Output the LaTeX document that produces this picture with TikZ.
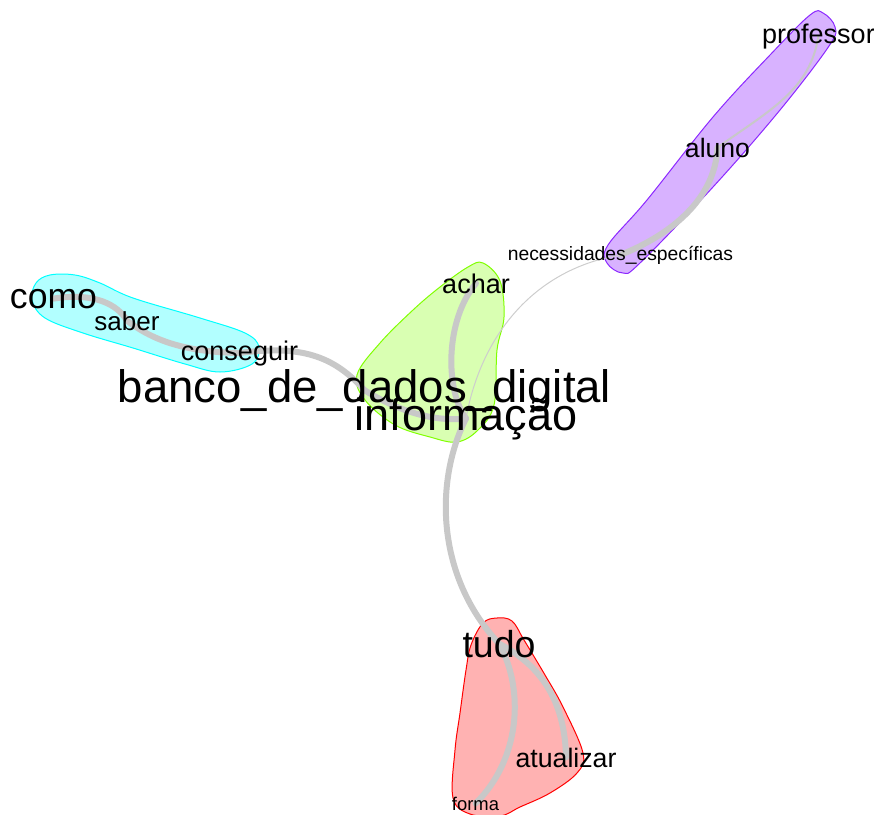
\documentclass[tikz,border=0pt]{standalone}
\usepackage{fontspec}
\setmainfont{Liberation Sans}
\pgfdeclarelayer{hull}
\pgfdeclarelayer{edge}
\pgfsetlayers{hull,edge,main}
\definecolor{edgegray}{RGB}{200,200,200}
\definecolor{cyanfill}{RGB}{178,255,255}
\definecolor{cyanline}{RGB}{0,255,255}
\definecolor{greenfill}{RGB}{217,255,178}
\definecolor{greenline}{RGB}{128,255,0}
\definecolor{purplefill}{RGB}{216,178,255}
\definecolor{purpleline}{RGB}{140,40,255}
\definecolor{redfill}{RGB}{255,178,178}
\definecolor{redline}{RGB}{255,0,0}
\newcommand\fsz[1]{\fontsize{#1}{#1}\selectfont}
\begin{document}
\begin{tikzpicture}[x=1pt,y=-1pt,
  word/.style={inner sep=0pt, anchor=base, text=black},
  strongedge/.style={draw=edgegray, line width=6pt, line cap=round},
  midedge/.style={draw=edgegray, line width=2pt, line cap=round},
  thinedge/.style={draw=edgegray!90!white, line width=1pt, line cap=round},
  hullshape/.style={line width=1pt}]
\useasboundingbox (0,0) rectangle (874,814);

% words
\node[word, font=\fsz{35.6}] (como) at (53.5,308) {como};
\node[word, font=\fsz{26}] (saber) at (127,330) {saber};
\node[word, font=\fsz{27}] (conseguir) at (239.5,360) {conseguir};
\node[word, font=\fsz{45.5}] (banco) at (364.5,402) {banco\_de\_dados\_digital};
\node[word, font=\fsz{45}] (info) at (466,430) {informação};
\node[word, font=\fsz{27}] (achar) at (476,293) {achar};
\node[word, font=\fsz{19.3}] (nec) at (620.5,260) {necessidades\_específicas};
\node[word, font=\fsz{26.6}] (aluno) at (717.5,157) {aluno};
\node[word, font=\fsz{27}, anchor=base west] (prof) at (762,43) {professor};
\node[word, font=\fsz{37.5}] (tudo) at (499,657) {tudo};
\node[word, font=\fsz{26.7}] (atual) at (566,767) {atualizar};
\node[word, font=\fsz{18.4}] (forma) at (475.5,810) {forma};

% group hulls
\begin{pgfonlayer}{hull}
\draw[hullshape, draw=cyanline, fill=cyanfill] plot[smooth cycle, tension=0.6] coordinates {
  (36,283) (50,275) (75,275) (100,283) (133,298) (200,318) (245,333) (259,347)
  (252,364) (220,372) (185,364) (133,348) (83,333) (45,318) (32,300)};
\draw[hullshape, draw=greenline, fill=greenfill] plot[smooth cycle, tension=0.6] coordinates {
  (483,263) (500,281) (504,317) (497,350) (494,405) (478,430) (457,442) (430,437)
  (395,425) (365,400) (357,375) (380,343) (413,310) (440,287) (468,267)};
\draw[hullshape, draw=purpleline, fill=purplefill] plot[smooth cycle, tension=0.6] coordinates {
  (823,13) (835,27) (829,46) (780,110) (713,187) (640,263) (623,273) (607,263)
  (608,245) (647,200) (713,117) (770,55) (810,15)};
\draw[hullshape, draw=redline, fill=redfill] plot[smooth cycle, tension=0.6] coordinates {
  (497,618) (512,621) (524,640) (545,675) (563,707) (583,753) (577,773) (550,793)
  (520,807) (500,816) (470,814) (453,798) (455,750) (460,713) (466,670) (471,645) (483,623)};
\end{pgfonlayer}

% connectors
\begin{pgfonlayer}{edge}
\draw[strongedge] (como.center) .. controls (95,292) and (118,305) .. (saber.center);
\draw[strongedge] (saber.center) .. controls (150,338) and (180,352) .. (conseguir.center);
\draw[strongedge] (conseguir.center) .. controls (300,345) and (333,355) .. (banco.center);
\draw[strongedge] (banco.center) .. controls (400,412) and (435,422) .. (info.center);
\draw[strongedge] (achar.center) .. controls (445,320) and (445,390) .. (info.center);
\draw[strongedge] (info.center) .. controls (435,480) and (435,575) .. (tudo.center);
\draw[strongedge] (tudo.center) .. controls (525,690) and (520,760) .. (forma.center);
\draw[strongedge] (tudo.center) .. controls (540,665) and (565,700) .. (atual.center);
\draw[strongedge] (nec.center) .. controls (670,235) and (715,200) .. (aluno.center);
\draw[midedge] (aluno.center) .. controls (770,110) and (810,90) .. (prof.center);
\draw[thinedge] (info.center) .. controls (480,340) and (530,270) .. (nec.center);
\end{pgfonlayer}
\end{tikzpicture}
\end{document}
